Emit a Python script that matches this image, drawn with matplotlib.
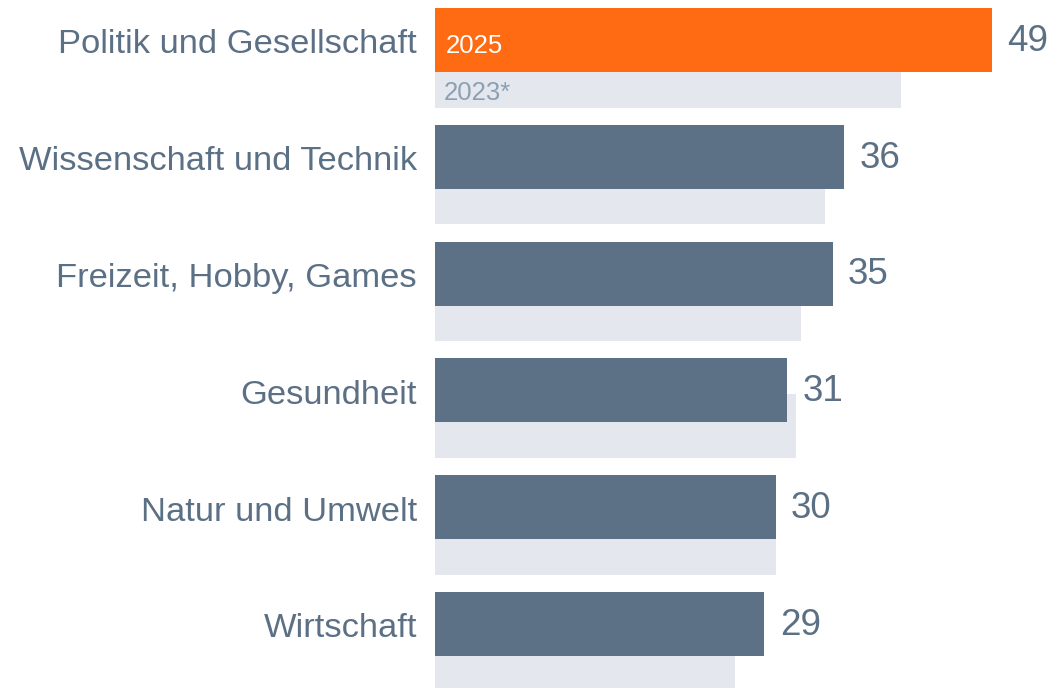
import matplotlib
matplotlib.use('Agg')
from matplotlib import pyplot as plt

plt.rcParams['font.family'] = ['Liberation Sans', 'DejaVu Sans']

CATEGORIES = ['Politik und Gesellschaft', 'Wissenschaft und Technik', 'Freizeit, Hobby, Games',
              'Gesundheit', 'Natur und Umwelt', 'Wirtschaft']
VALUES_2025 = [49, 36, 35, 31, 30, 29]
VALUES_2023 = [41, 34.3, 32.2, 31.8, 30, 26.4]
LEGEND_2025 = '2025'
LEGEND_2023 = '2023*'

ORANGE = '#FF6B12'
SLATE = '#5C7186'
LIGHT = '#E4E8EE'
TEXT = '#5C7085'
TEXT_LIGHT = '#8DA0B3'

W, H = 1055, 688
fig = plt.figure(figsize=(W / 100, H / 100), dpi=100)
# x: value 0 at pixel 435, ~11.36 px per unit; y: one row ~116.8 px
x0 = 435
px_per_unit = 11.36
row = 116.8
ax = fig.add_axes([x0 / W, 0, 1 - x0 / W, 1])
ax.set_xlim(0, (W - x0) / px_per_unit)
ax.set_ylim((H - 40) / row, -40 / row)

bar_h = 64 / row
offset = 35.5 / row
ys = list(range(len(CATEGORIES)))

ax.barh([y + offset for y in ys], VALUES_2023, height=bar_h, color=LIGHT, zorder=1)
colors = [ORANGE] + [SLATE] * (len(ys) - 1)
ax.barh(ys, VALUES_2025, height=bar_h, color=colors, zorder=2)

for y, v in zip(ys, VALUES_2025):
    ax.annotate(str(v), (v, y), xytext=(11, -1), textcoords='offset points',
                ha='left', va='center', fontsize=26.5, color=TEXT, zorder=3,
                annotation_clip=False)

for y, name in zip(ys, CATEGORIES):
    ax.annotate(name, (0, y), xytext=(-13, -3.5), textcoords='offset points',
                ha='right', va='center', fontsize=24.8, color=TEXT,
                annotation_clip=False)

ax.annotate(LEGEND_2025, (0, 0 + 4 / row), xytext=(7.5, -1.5), textcoords='offset points',
            ha='left', va='center', fontsize=18.5, color='white', zorder=3)
ax.annotate(LEGEND_2023, (0, offset + 15 / row), xytext=(6, -1.5), textcoords='offset points',
            ha='left', va='center', fontsize=18.5, color=TEXT_LIGHT, zorder=3)

ax.set_yticks([])
ax.set_xticks([])
for s in ax.spines.values():
    s.set_visible(False)

fig.savefig('out.png', dpi=100)
